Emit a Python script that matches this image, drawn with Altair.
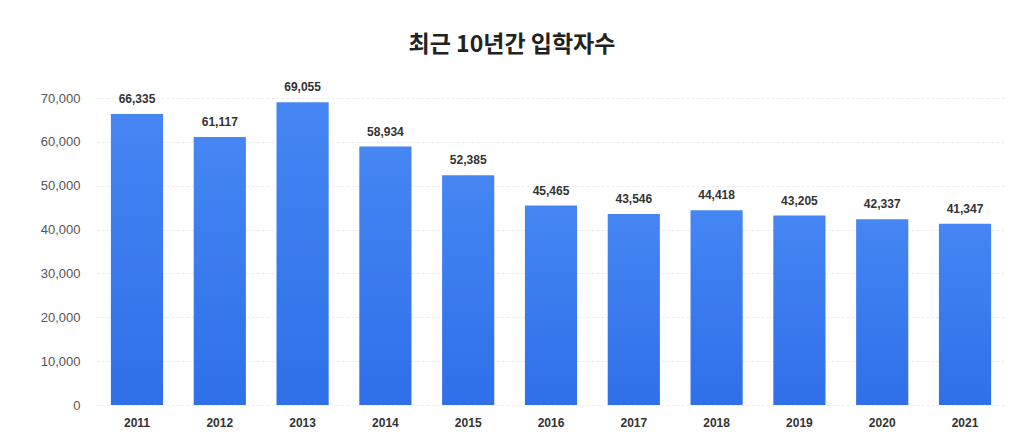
import altair as alt
import pandas as pd

years = ["2011", "2012", "2013", "2014", "2015", "2016", "2017", "2018", "2019", "2020", "2021"]
entrants = [66335, 61117, 69055, 58934, 52385, 45465, 43546, 44418, 43205, 42337, 41347]
y_ticks = [0, 10000, 20000, 30000, 40000, 50000, 60000, 70000]
title_text = "최근 10년간 입학자수"

df = pd.DataFrame({"year": years, "value": entrants})

x = alt.X("year:N", sort=years, title=None,
          scale=alt.Scale(paddingInner=0.37, paddingOuter=0.18),
          axis=alt.Axis(labelAngle=0, labelFont="Liberation Sans", labelFontSize=12,
                        labelFontWeight="bold", labelColor="#333333", ticks=False,
                        domain=False, labelPadding=12))
y = alt.Y("value:Q", title=None,
          scale=alt.Scale(domain=[0, 70000], nice=False),
          axis=alt.Axis(values=y_ticks, format=",d", formatType="number",
                        labelFont="Liberation Sans",
                        labelFontSize=13, labelColor="#555555", ticks=False,
                        domain=False, labelPadding=16, gridColor="#ececec",
                        gridDash=[3, 2]))

base = alt.Chart(df).encode(x=x, y=y)

bars = base.mark_bar(
    color=alt.Gradient(gradient="linear", x1=0, y1=0, x2=0, y2=1,
                       stops=[alt.GradientStop(color="#4586f3", offset=0),
                              alt.GradientStop(color="#2f6fe9", offset=1)])
)

labels = base.mark_text(
    baseline="bottom", dy=-8, font="Liberation Sans", fontSize=12,
    fontWeight="bold", color="#333333"
).encode(text=alt.Text("value:Q", format=","))

chart = (bars + labels).properties(
    width=910, height=307,
    autosize=alt.AutoSizeParams(type="none"),
    padding={"left": 88, "top": 90, "right": 12, "bottom": 32},
    title=alt.TitleParams(title_text, font="Noto Sans CJK KR", fontSize=23,
                          fontWeight="bold", color="#222222", anchor="middle",
                          dx=-39, offset=24),
    background="white"
).configure_view(stroke=None)

chart.save("out.html", embed_options={"renderer": "svg", "actions": False})
